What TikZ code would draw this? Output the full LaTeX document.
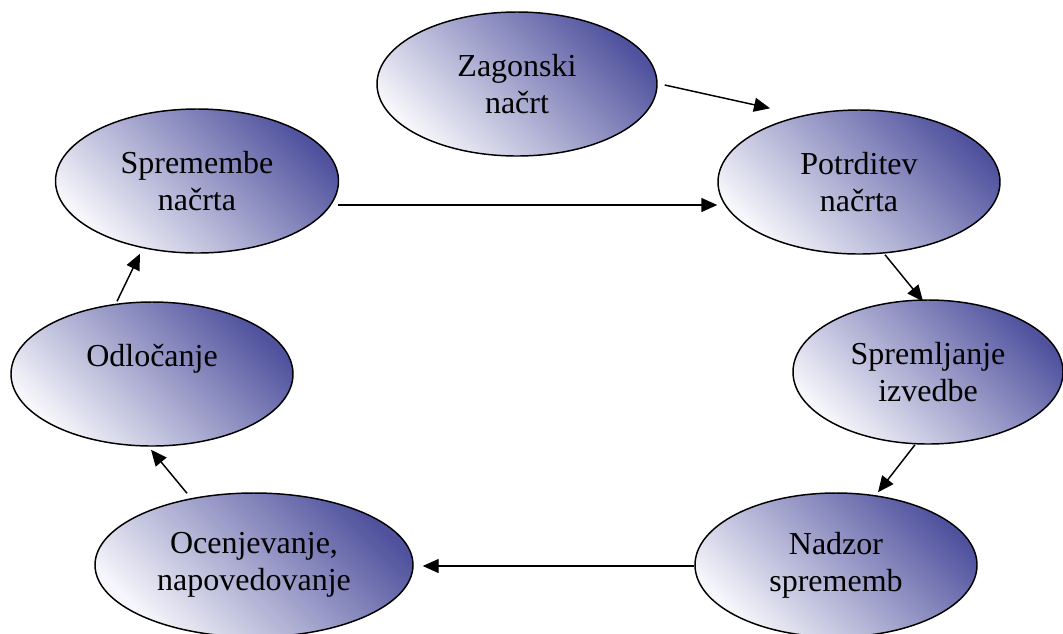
\documentclass[tikz,border=0pt]{standalone}
\usepackage{fontspec}
\setmainfont{Liberation Serif}
\usetikzlibrary{shapes.geometric,arrows.meta}

\definecolor{stepdark}{RGB}{80,82,158}
\definecolor{steplight}{RGB}{246,246,251}

\tikzset{
  stage/.style={ellipse, draw=black, line width=1.1pt,
    minimum width=#1*0.75pt, minimum height=108pt, inner sep=0pt,
    align=center, font=\fontsize{24}{27.75}\selectfont,
    top color=stepdark, bottom color=steplight, shading angle=-45},
  stage/.default=282,
  flow/.style={line width=1.1pt, -{Triangle[length=12pt,width=10.5pt]}}
}

\begin{document}
\begin{tikzpicture}[x=0.75pt,y=-0.75pt]
  \clip (0,0) rectangle (1063,633);
  \fill[white] (0,0) rectangle (1063,633);

  % cycle stages
  \node[stage=280] (zag)   at (517,84)  {Zagonski\\načrt};
  \node[stage=283] (sprem) at (197,181) {Spremembe\\načrta};
  \node[stage=282] (potr)  at (859,182) {Potrditev\\načrta};
  \node[stage=282] (odl)   at (152,374) {Odločanje\\\mbox{}};
  \node[stage=270] (mon)   at (928,372) {Spremljanje\\izvedbe};
  \node[stage=282] (nad)   at (836,565) {Nadzor\\sprememb};
  \node[stage=318] (ocen)  at (254,565) {Ocenjevanje,\\napovedovanje};

  % connectors
  \draw[flow] ([shift={(7,1)}]zag.east)     -- ([shift={(-89,-1)}]potr.north);
  \draw[flow] ([shift={(-1,24)}]sprem.east) -- ([shift={(0,23)}]potr.west);
  \draw[flow] ([shift={(26,0)}]potr.south)  -- ([shift={(-5,2)}]mon.north);
  \draw[flow] ([shift={(-13,0)}]mon.south)  -- ([shift={(42,0)}]nad.north);
  \draw[flow] ([shift={(0,1)}]nad.west)     -- ([shift={(9,1)}]ocen.east);
  \draw[flow] ([shift={(-67,1)}]ocen.north) -- ([shift={(-1,3)}]odl.south);
  \draw[flow] ([shift={(-35,0)}]odl.north)  -- ([shift={(-57,0)}]sprem.south);
\end{tikzpicture}
\end{document}
